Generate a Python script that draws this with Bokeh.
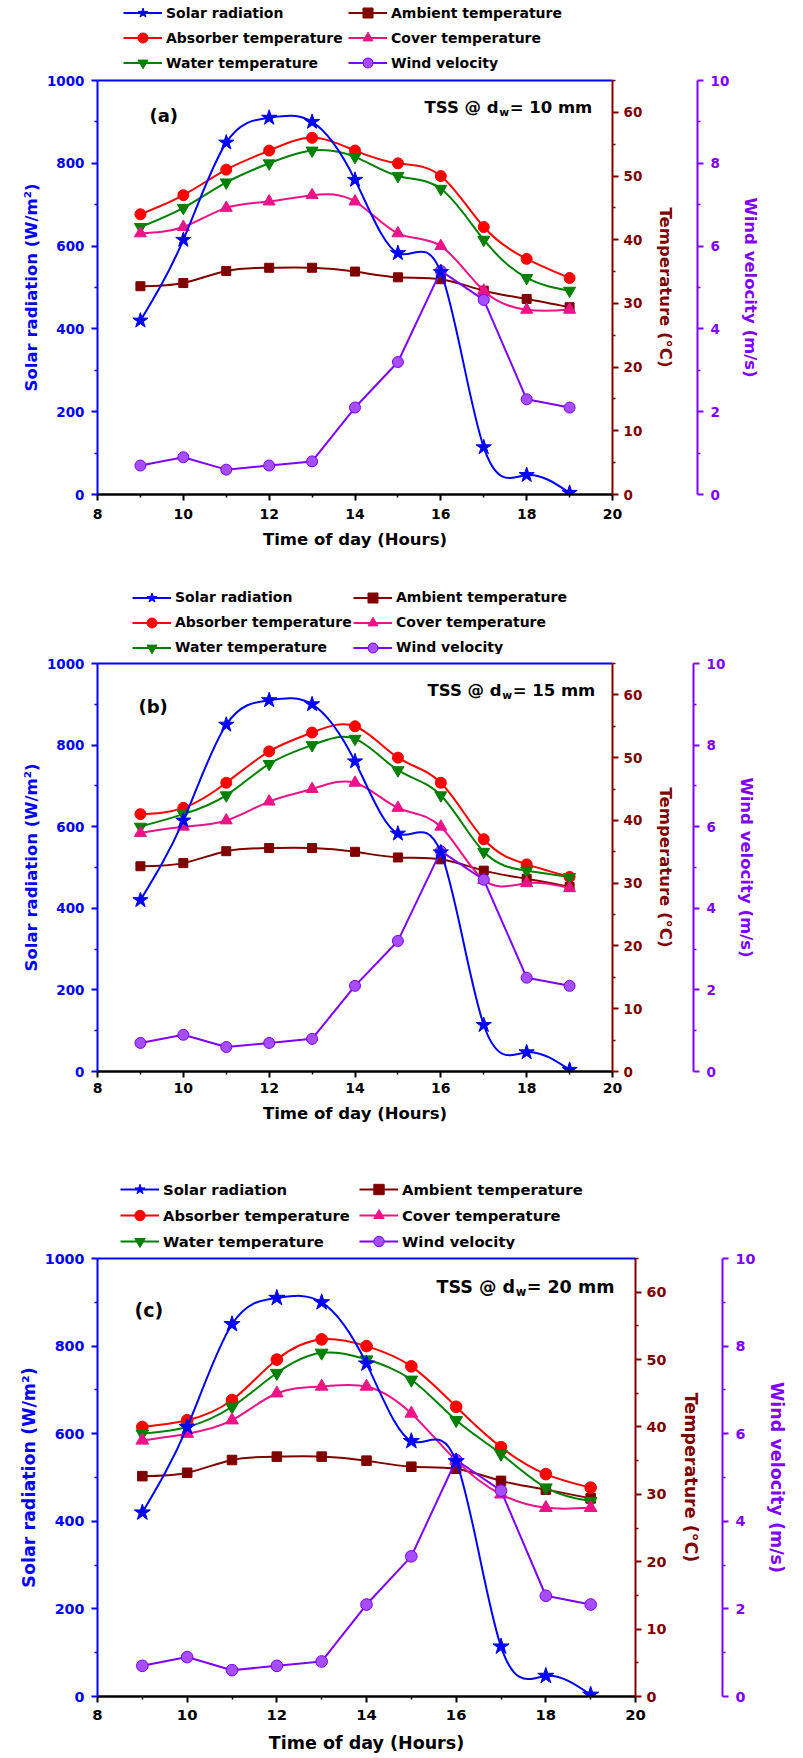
import numpy as np
from bokeh.plotting import figure
from bokeh.models import (Range1d, LinearAxis, FixedTicker, Legend, LegendItem,
                          Label, ColumnDataSource)
from bokeh.layouts import column
from bokeh.embed import file_html
from bokeh.resources import INLINE

# ---------------- data ----------------
hours = [9, 10, 11, 12, 13, 14, 15, 16, 17, 18, 19]
solar = [420, 615, 850, 910, 900, 760, 583, 537, 114, 47, 4]            # W/m2
wind = [0.7, 0.9, 0.6, 0.7, 0.8, 2.1, 3.2, 5.4, 4.7, 2.3, 2.1]          # m/s
ambient = [32.7, 33.2, 35.1, 35.6, 35.6, 35.0, 34.1, 33.8, 32.0, 30.7, 29.4]  # degC

absorber_10 = [44.0, 47.0, 51.0, 54.0, 56.0, 54.0, 52.0, 50.0, 42.0, 37.0, 34.0]
water_10 = [42.0, 45.0, 49.0, 52.0, 54.0, 53.0, 50.0, 48.0, 40.0, 34.0, 32.0]
cover_10 = [41.0, 42.0, 45.0, 46.0, 47.0, 46.0, 41.0, 39.0, 32.0, 29.0, 29.0]

absorber_15 = [41.0, 42.0, 46.0, 51.0, 54.0, 55.0, 50.0, 46.0, 37.0, 33.0, 31.0]
water_15 = [39.0, 41.0, 44.0, 49.0, 52.0, 53.0, 48.0, 44.0, 35.0, 32.0, 31.0]
cover_15 = [38.0, 39.0, 40.0, 43.0, 45.0, 46.0, 42.0, 39.0, 30.5, 30.0, 29.2]

absorber_20 = [40.0, 41.0, 44.0, 50.0, 53.0, 52.0, 49.0, 43.0, 37.0, 33.0, 31.0]
water_20 = [39.0, 40.0, 43.0, 48.0, 51.0, 50.0, 47.0, 41.0, 36.0, 31.0, 29.0]
cover_20 = [38.0, 39.0, 41.0, 45.0, 46.0, 46.0, 42.0, 35.0, 30.0, 28.0, 28.0]

panel_tags = ["(a)", "(b)", "(c)"]
depths = ["10", "15", "20"]
absorbers = [absorber_10, absorber_15, absorber_20]
waters = [water_10, water_15, water_20]
covers = [cover_10, cover_15, cover_20]

x_ticks = [8, 10, 12, 14, 16, 18, 20]
x_minor = [9, 11, 13, 15, 17, 19]
solar_ticks = [0, 200, 400, 600, 800, 1000]
solar_minor = [100, 300, 500, 700, 900]
temp_ticks = [0, 10, 20, 30, 40, 50, 60]
temp_minor = [5, 15, 25, 35, 45, 55, 65]
wind_ticks = [0, 2, 4, 6, 8, 10]
wind_minor = [1, 3, 5, 7, 9]

legend_col1 = ["Solar radiation", "Absorber temperature", "Water temperature"]
legend_col2 = ["Ambient temperature", "Cover temperature", "Wind velocity"]

# ---------------- styles ----------------
FONT = "DejaVu Sans"
BLUE = "#0000FF"
DRED = "#800000"
RED = "#FF0000"
PINK = "#EE1289"
GREEN = "#008000"
PURPLE = "#8000FF"

STYLE = {
    "Solar radiation": (BLUE, "star", 16, BLUE),
    "Ambient temperature": (DRED, "square", 9, DRED),
    "Absorber temperature": (RED, "circle", 11, RED),
    "Cover temperature": (PINK, "triangle", 12, PINK),
    "Water temperature": (GREEN, "inverted_triangle", 12, GREEN),
    "Wind velocity": (PURPLE, "circle", 11, "#A64DFF"),
}

LAYOUT = [
    dict(leg_h=71, top=9, bottom=81, left=97, right=183, fw=515, fh=414, spacer=19,
         s=1.0, temp_st=11, leg_x=(26, 251), glyph_h=25, leg_y=-4,
         tss=(327, 387), tag=(52, 379), x_lab_st=8, xt_st=8),
    dict(leg_h=79, top=9, bottom=79, left=97, right=183, fw=515, fh=408, spacer=15,
         s=1.0, temp_st=11, leg_x=(35, 256), glyph_h=25, leg_y=-5.5,
         tss=(330, 381), tag=(41, 365), x_lab_st=5, xt_st=8),
    dict(leg_h=99, top=9, bottom=62, left=97, right=160, fw=538, fh=438, spacer=18,
         s=1.06, temp_st=12, leg_x=(23, 262), glyph_h=26, leg_y=-5,
         tss=(339, 410), tag=(37, 386), x_lab_st=7, xt_st=10),
]


def spline_segments(x, y):
    """Natural cubic spline through the data, expressed as Bezier segments."""
    x = np.asarray(x, float)
    y = np.asarray(y, float)
    n = len(x)
    h = np.diff(x)
    A = np.zeros((n, n))
    b = np.zeros(n)
    A[0, 0] = 1.0
    A[-1, -1] = 1.0
    for i in range(1, n - 1):
        A[i, i - 1] = h[i - 1]
        A[i, i] = 2 * (h[i - 1] + h[i])
        A[i, i + 1] = h[i]
        b[i] = 6 * ((y[i + 1] - y[i]) / h[i] - (y[i] - y[i - 1]) / h[i - 1])
    M = np.linalg.solve(A, b)
    m = np.zeros(n)
    for i in range(n - 1):
        m[i] = (y[i + 1] - y[i]) / h[i] - h[i] * (2 * M[i] + M[i + 1]) / 6
    m[-1] = (y[-1] - y[-2]) / h[-1] + h[-1] * (M[-2] + 2 * M[-1]) / 6
    return ColumnDataSource(dict(
        x0=x[:-1], y0=y[:-1], x1=x[1:], y1=y[1:],
        cx0=x[:-1] + h / 3, cy0=y[:-1] + m[:-1] * h / 3,
        cx1=x[1:] - h / 3, cy1=y[1:] - m[1:] * h / 3))


def fpx(v):
    return "%.1fpx" % v


def style_axis(ax, color, s, label=None, tick_st=6, title_st=4, line_w=2):
    ax.axis_line_color = color
    ax.axis_line_width = line_w
    ax.major_tick_line_color = color
    ax.major_tick_line_width = 2
    ax.minor_tick_line_color = color
    ax.minor_tick_line_width = 1.5
    ax.major_tick_in = 0
    ax.major_tick_out = 6
    ax.minor_tick_in = 0
    ax.minor_tick_out = 3
    ax.major_label_text_color = color
    ax.major_label_text_font = FONT
    ax.major_label_text_font_style = "bold"
    ax.major_label_text_font_size = fpx(13.5 * s)
    ax.major_label_standoff = tick_st
    if label is not None:
        ax.axis_label = label
        ax.axis_label_text_color = color
        ax.axis_label_text_font = FONT
        ax.axis_label_text_font_style = "bold"
        ax.axis_label_text_font_size = fpx(16.5 * s)
        ax.axis_label_standoff = title_st


def panel_series(k):
    return {
        "Solar radiation": solar,
        "Ambient temperature": ambient,
        "Absorber temperature": absorbers[k],
        "Cover temperature": covers[k],
        "Water temperature": waters[k],
        "Wind velocity": wind,
    }


def make_legend_fig(k):
    """A strip above each panel holding the two-column legend."""
    L = LAYOUT[k]
    s = L["s"]
    lf = figure(frame_width=L["fw"], frame_height=L["leg_h"],
                min_border_left=L["left"], min_border_right=L["right"],
                min_border_top=0, min_border_bottom=0,
                x_range=Range1d(0, 1), y_range=Range1d(0, 1),
                x_axis_type=None, y_axis_type=None,
                output_backend="svg", toolbar_location=None)
    lf.outline_line_color = None
    lf.grid.visible = False
    lf.background_fill_color = "white"
    lf.border_fill_color = "white"
    data = panel_series(k)
    items = {}
    for name, (col, mk, size, fill) in STYLE.items():
        # the series lies outside this strip's (0..1) ranges: only its legend glyph shows
        ln = lf.line(hours, data[name], line_color=col, line_width=2)
        sc = lf.scatter(hours, data[name], marker=mk, size=size, fill_color=fill,
                        line_color=col)
        items[name] = LegendItem(label=name, renderers=[ln, sc])
    gh = L["glyph_h"]
    for names, lx in zip((legend_col1, legend_col2), L["leg_x"]):
        leg = Legend(items=[items[n] for n in names], location=(lx, L["leg_y"]),
                     orientation="vertical", padding=0, margin=0, spacing=0,
                     glyph_width=39, glyph_height=gh, label_height=20,
                     label_standoff=4, label_text_font=FONT,
                     label_text_font_style="bold", label_text_font_size=fpx(14 * s),
                     label_text_color="black", label_text_baseline="middle",
                     border_line_color=None, background_fill_alpha=0)
        lf.add_layout(leg)
    return lf


def make_panel(k):
    L = LAYOUT[k]
    s = L["s"]
    p = figure(frame_width=L["fw"], frame_height=L["fh"],
               min_border_left=L["left"], min_border_right=L["right"],
               min_border_top=L["top"], min_border_bottom=L["bottom"],
               x_range=Range1d(8, 20), y_range=Range1d(0, 1000),
               output_backend="svg", toolbar_location=None)
    p.extra_y_ranges = {"temp": Range1d(0, 65), "wind": Range1d(0, 10)}
    p.outline_line_color = None
    p.xgrid.visible = False
    p.ygrid.visible = False
    p.background_fill_color = "white"
    p.border_fill_color = "white"

    ya = p.yaxis[0]
    ya.ticker = FixedTicker(ticks=solar_ticks, minor_ticks=solar_minor)
    style_axis(ya, BLUE, s, "Solar radiation (W/m\u00b2)", tick_st=7, title_st=3)

    xa = p.xaxis[0]
    xa.ticker = FixedTicker(ticks=x_ticks, minor_ticks=x_minor)
    style_axis(xa, "black", s, "Time of day (Hours)", tick_st=L["x_lab_st"],
               title_st=L["xt_st"], line_w=2.5)
    xa.major_label_text_font_size = fpx(14 * s)

    top = LinearAxis(ticker=FixedTicker(ticks=[8]), major_label_overrides={8: ""},
                     axis_line_color=BLUE, axis_line_width=2,
                     major_tick_line_color=None, minor_tick_line_color=None,
                     major_tick_out=0, major_tick_in=0, major_label_standoff=0,
                     major_label_text_font_size="0px")
    p.add_layout(top, "above")

    ta = LinearAxis(y_range_name="temp",
                    ticker=FixedTicker(ticks=temp_ticks, minor_ticks=temp_minor))
    style_axis(ta, DRED, s, "Temperature (\u00b0C)", tick_st=5, title_st=L["temp_st"])
    p.add_layout(ta, "right")

    sp = LinearAxis(y_range_name="temp", ticker=FixedTicker(ticks=[0]),
                    major_label_overrides={0: ""}, axis_line_color=None,
                    major_tick_line_color=None, minor_tick_line_color=None,
                    major_tick_out=L["spacer"], major_tick_in=0, major_label_standoff=0,
                    major_label_text_font_size="0px")
    p.add_layout(sp, "right")

    wa = LinearAxis(y_range_name="wind",
                    ticker=FixedTicker(ticks=wind_ticks, minor_ticks=wind_minor))
    style_axis(wa, PURPLE, s, "Wind velocity (m/s)", tick_st=7, title_st=9)
    p.add_layout(wa, "right")

    data = panel_series(k)
    series = [
        ("Ambient temperature", "temp", True),
        ("Absorber temperature", "temp", True),
        ("Water temperature", "temp", True),
        ("Cover temperature", "temp", True),
        ("Wind velocity", "wind", False),
        ("Solar radiation", "default", True),
    ]
    for name, rng, smooth in series:
        col, mk, size, fill = STYLE[name]
        ys = data[name]
        if smooth:
            p.bezier(x0="x0", y0="y0", x1="x1", y1="y1", cx0="cx0", cy0="cy0",
                     cx1="cx1", cy1="cy1", source=spline_segments(hours, ys),
                     line_color=col, line_width=2, y_range_name=rng)
        else:
            p.line(hours, ys, line_color=col, line_width=2, y_range_name=rng)
        p.scatter(hours, ys, marker=mk, size=size * s, fill_color=fill,
                  line_color=col, line_width=1, y_range_name=rng)

    fs = 16.5 * s
    tx, ty = L["tss"]
    w1 = 4.534 * fs
    sub_fs = 0.65 * fs
    w2 = 0.87 * sub_fs
    p.add_layout(Label(x=tx, y=ty, x_units="screen", y_units="screen", text="TSS @ d",
                       text_font=FONT, text_font_style="bold", text_font_size=fpx(fs),
                       text_baseline="middle", text_align="left", text_color="black"))
    p.add_layout(Label(x=tx + w1, y=ty - 0.32 * fs, x_units="screen", y_units="screen",
                       text="w", text_font=FONT, text_font_style="bold",
                       text_font_size=fpx(sub_fs), text_baseline="middle",
                       text_align="left", text_color="black"))
    p.add_layout(Label(x=tx + w1 + w2 + 1, y=ty, x_units="screen", y_units="screen",
                       text="= %s mm" % depths[k], text_font=FONT,
                       text_font_style="bold", text_font_size=fpx(fs),
                       text_baseline="middle", text_align="left", text_color="black"))
    gx, gy = L["tag"]
    p.add_layout(Label(x=gx, y=gy, x_units="screen", y_units="screen", text=panel_tags[k],
                       text_font=FONT, text_font_style="bold", text_font_size=fpx(18 * s),
                       text_baseline="middle", text_align="left", text_color="black"))
    return p


children = []
for k in range(3):
    children.append(make_legend_fig(k))
    children.append(make_panel(k))
page = column(*children, spacing=0)
open("out.html", "w").write(file_html(page, INLINE))
